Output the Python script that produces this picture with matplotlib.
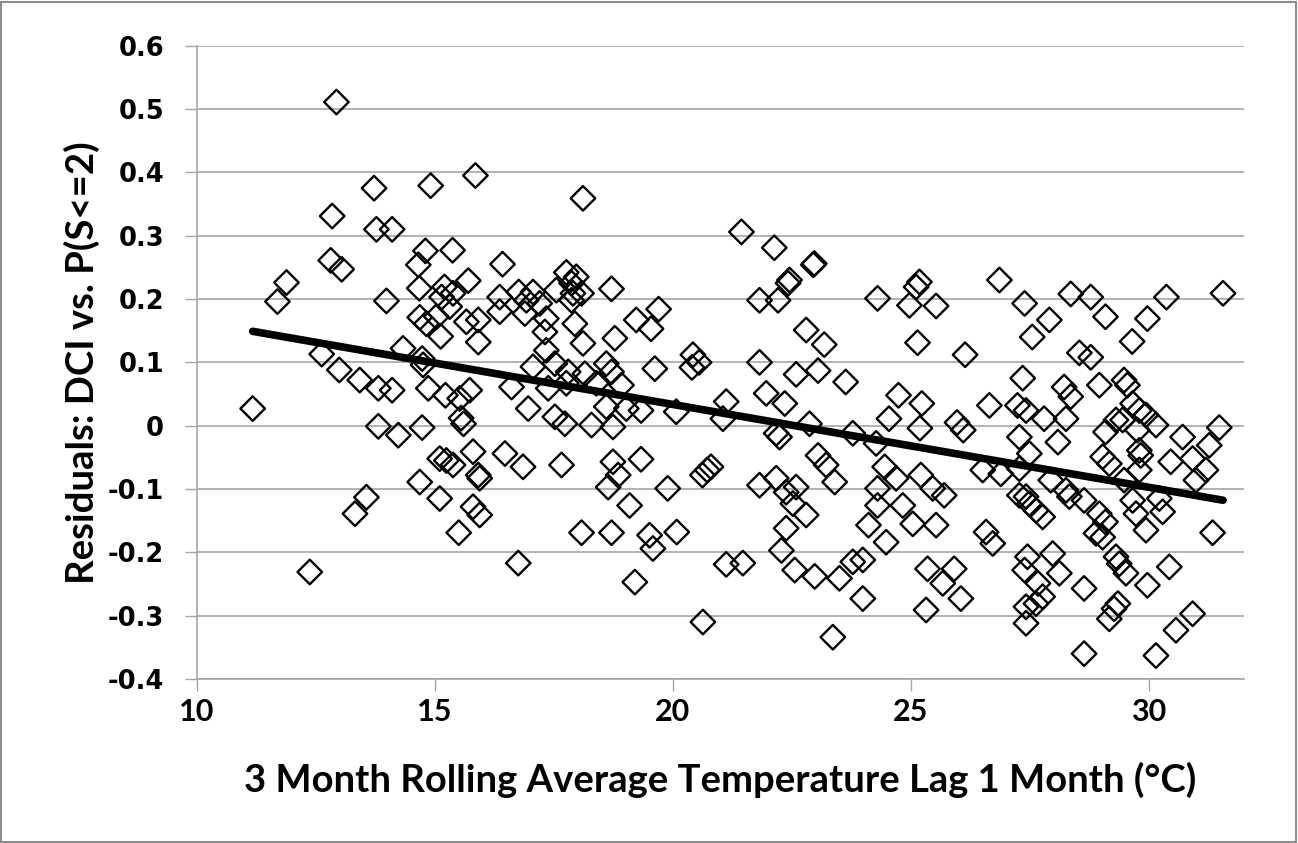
import numpy as np
import matplotlib
matplotlib.use("Agg")
from matplotlib import pyplot as plt
from matplotlib.patches import Rectangle

# temperature (x) and residual (y)
temp = [11.17, 11.69, 11.88, 12.37, 12.62, 12.81, 12.84, 12.93, 12.99, 13.04,
        13.32, 13.42, 13.56, 13.72, 13.77, 13.81, 13.81, 13.98, 14.10, 14.10,
        14.23, 14.33, 14.65, 14.67, 14.68, 14.68, 14.73, 14.73, 14.75, 14.80,
        14.82, 14.86, 14.91, 15.03, 15.10, 15.10, 15.12, 15.14, 15.20, 15.22,
        15.24, 15.31, 15.37, 15.38, 15.38, 15.50, 15.52, 15.55, 15.60, 15.66,
        15.70, 15.73, 15.80, 15.80, 15.85, 15.91, 15.91, 15.91, 15.94, 15.94,
        16.36, 16.36, 16.42, 16.47, 16.61, 16.75, 16.76, 16.85, 16.89, 16.92,
        16.96, 17.06, 17.06, 17.20, 17.31, 17.34, 17.34, 17.38, 17.52, 17.52,
        17.55, 17.66, 17.73, 17.76, 17.76, 17.80, 17.87, 17.87, 17.90, 17.94,
        17.97, 18.08, 18.08, 18.11, 18.11, 18.15, 18.29, 18.39, 18.60, 18.60,
        18.64, 18.71, 18.71, 18.71, 18.74, 18.74, 18.78, 18.85, 18.92, 19.02,
        19.09, 19.20, 19.23, 19.33, 19.33, 19.51, 19.54, 19.58, 19.62, 19.70,
        19.89, 20.07, 20.08, 20.42, 20.55, 20.40, 20.62, 20.72, 20.80, 20.63,
        21.05, 21.12, 21.12, 21.44, 21.47, 21.82, 21.82, 21.82, 21.96, 22.13,
        22.17, 22.17, 22.21, 22.24, 22.28, 22.35, 22.38, 22.38, 22.42, 22.45,
        22.52, 22.56, 22.59, 22.59, 22.80, 22.80, 22.87, 22.95, 22.97, 22.98,
        23.05, 23.05, 23.18, 23.22, 23.36, 23.40, 23.50, 23.63, 23.78, 23.78,
        23.99, 23.99, 24.11, 24.27, 24.30, 24.30, 24.30, 24.45, 24.48, 24.54,
        24.69, 24.74, 24.83, 24.97, 25.04, 25.11, 25.14, 25.18, 25.19, 25.21,
        25.23, 25.32, 25.35, 25.46, 25.53, 25.53, 25.67, 25.70, 25.91, 25.97,
        26.05, 26.10, 26.14, 26.51, 26.58, 26.65, 26.72, 26.86, 26.89, 27.24,
        27.28, 27.28, 27.28, 27.35, 27.39, 27.39, 27.42, 27.42, 27.42, 27.42,
        27.45, 27.49, 27.49, 27.55, 27.63, 27.63, 27.67, 27.77, 27.77, 27.80,
        27.91, 27.94, 27.98, 28.09, 28.12, 28.22, 28.26, 28.26, 28.33, 28.36,
        28.36, 28.54, 28.64, 28.64, 28.64, 28.78, 28.78, 28.89, 28.96, 28.96,
        29.03, 29.03, 29.09, 29.09, 29.09, 29.17, 29.17, 29.27, 29.31, 29.31,
        29.35, 29.38, 29.45, 29.48, 29.48, 29.52, 29.55, 29.65, 29.66, 29.66,
        29.73, 29.76, 29.80, 29.80, 29.83, 29.80, 29.94, 29.94, 29.97, 29.97,
        30.15, 30.15, 30.22, 30.29, 30.37, 30.43, 30.46, 30.57, 30.71, 30.92,
        30.92, 30.99, 31.20, 31.27, 31.34, 31.48, 31.56]

resid = [0.027, 0.196, 0.226, -0.231, 0.113, 0.261, 0.331, 0.511, 0.088, 0.247,
         -0.139, 0.072, -0.113, 0.375, 0.310, 0.059, -0.001, 0.197, 0.310, 0.056,
         -0.015, 0.122, 0.254, 0.217, 0.171, -0.089, 0.106, -0.003, 0.096, 0.276,
         0.161, 0.059, 0.379, 0.172, -0.052, -0.115, 0.141, 0.203, 0.219, 0.048,
         -0.055, 0.188, 0.277, 0.209, -0.062, -0.169, 0.043, 0.012, 0.003, 0.164,
         0.229, 0.056, -0.041, -0.128, 0.395, 0.167, 0.132, -0.078, -0.083, -0.141,
         0.203, 0.180, 0.255, -0.044, 0.061, -0.217, 0.211, -0.065, 0.177, 0.198,
         0.027, 0.211, 0.093, 0.193, 0.148, 0.169, 0.119, 0.059, 0.098, 0.014,
         0.214, -0.062, 0.003, 0.242, 0.067, 0.085, 0.225, 0.198, 0.209, 0.161,
         0.235, 0.209, -0.169, 0.359, 0.130, 0.082, 0.001, 0.067, 0.098, 0.030,
         -0.097, 0.216, 0.085, -0.169, -0.002, -0.057, 0.138, -0.078, 0.064, 0.027,
         -0.126, -0.247, 0.167, 0.024, -0.053, -0.173, 0.153, -0.194, 0.090, 0.184,
         -0.099, 0.022, -0.168, 0.112, 0.100, 0.092, -0.078, -0.070, -0.065, -0.310,
         0.011, 0.038, -0.219, 0.306, -0.217, 0.198, 0.100, -0.094, 0.051, 0.281,
         -0.012, -0.083, 0.198, -0.018, -0.197, 0.035, -0.105, -0.162, 0.225, 0.230,
         -0.123, -0.228, 0.081, -0.097, 0.151, -0.141, 0.003, 0.254, 0.256, -0.238,
         0.087, -0.047, 0.128, -0.062, -0.334, -0.089, -0.241, 0.069, -0.012, -0.215,
         -0.212, -0.273, -0.157, -0.028, 0.201, -0.099, -0.126, -0.065, -0.184, 0.011,
         -0.083, 0.048, -0.126, 0.190, -0.155, 0.219, 0.131, 0.227, -0.004, -0.078,
         0.035, -0.291, -0.226, -0.099, 0.189, -0.157, -0.249, -0.110, -0.226, 0.005,
         -0.273, -0.007, 0.112, -0.070, -0.168, 0.032, -0.186, 0.230, -0.076, 0.032,
         -0.018, -0.068, -0.110, 0.075, 0.193, -0.228, 0.024, -0.112, -0.286, -0.312,
         -0.207, -0.044, -0.123, 0.140, -0.134, -0.281, -0.249, -0.144, -0.270, 0.011,
         0.167, -0.086, -0.202, -0.026, -0.233, 0.061, 0.011, -0.102, -0.112, 0.208,
         0.046, 0.115, -0.118, -0.257, -0.360, 0.203, 0.108, -0.170, 0.064, -0.139,
         -0.049, -0.176, 0.172, -0.010, -0.152, -0.060, -0.305, -0.289, 0.009, -0.207,
         -0.281, -0.218, 0.009, 0.072, -0.086, -0.233, 0.064, 0.133, 0.035, -0.118,
         -0.139, -0.007, 0.024, -0.039, -0.047, -0.070, 0.017, -0.165, 0.169, -0.252,
         0.001, -0.363, -0.115, -0.136, 0.203, -0.223, -0.057, -0.323, -0.018, -0.052,
         -0.297, -0.086, -0.070, -0.031, -0.169, -0.003, 0.209]

x_ticks = [10, 15, 20, 25, 30]
y_ticks = [-0.4, -0.3, -0.2, -0.1, 0, 0.1, 0.2, 0.3, 0.4, 0.5, 0.6]
y_ticklabels = ["-0.4", "-0.3", "-0.2", "-0.1", "0", "0.1", "0.2", "0.3", "0.4", "0.5", "0.6"]

temp = np.array(temp)
resid = np.array(resid)

grid_col = "#a6a6a6"

fig = plt.figure(figsize=(12.98, 8.43), dpi=100)
ax = fig.add_axes([197 / 1298, 1 - 679 / 843, (1244 - 197) / 1298, (679 - 45.7) / 843])

ax.scatter(temp, resid, marker="D", s=12.5 ** 2, facecolors="none",
           edgecolors="black", linewidths=1.7, zorder=3)

# linear trend line (like excel), from min to max x
k, b = np.polyfit(temp, resid, 1)
xl = np.array([temp.min(), temp.max()])
ax.plot(xl, k * xl + b, color="black", lw=5.5, solid_capstyle="round", zorder=4)

ax.set_xlim(10, 32)
ax.set_ylim(-0.4, 0.6)
ax.set_xticks(x_ticks)
ax.set_yticks(y_ticks)
ax.set_yticklabels(y_ticklabels)
ax.grid(axis="y", color=grid_col, lw=1.2)
ax.set_axisbelow(True)

for s in ["top", "right"]:
    ax.spines[s].set_visible(False)
for s in ["left", "bottom"]:
    ax.spines[s].set_color(grid_col)
    ax.spines[s].set_linewidth(1.2)

ax.tick_params(axis="both", direction="out", length=8.6, width=1.0, color=grid_col)
ax.tick_params(axis="y", pad=15)
ax.tick_params(axis="x", pad=5)

for t in ax.get_yticklabels():
    t.set_fontfamily("DejaVu Sans")
    t.set_fontweight("bold")
    t.set_fontsize(18.5)
for t in ax.get_xticklabels():
    t.set_fontfamily("Lato")
    t.set_fontweight("bold")
    t.set_fontsize(22)

ax.set_xlabel("3 Month Rolling Average Temperature Lag 1 Month (°C)",
              fontfamily="Lato", fontweight="bold", fontsize=27.5)
ax.xaxis.set_label_coords(0.5, -(780 - 679) / 633.3)
ax.xaxis.label.set_va("center")

ax.set_ylabel("Residuals: DCI vs. P(S<=2)", fontfamily="Lato", fontweight="bold", fontsize=27.5)
ax.yaxis.set_label_coords((82 - 197) / 1047, 0.5)
ax.yaxis.label.set_va("center")

# chart area border
fig.patches.append(Rectangle((1 / 1298, 1 / 843), 1 - 3 / 1298, 1 - 3 / 843,
                             transform=fig.transFigure, fill=False,
                             edgecolor="#8c8c8c", lw=1.5))

fig.savefig("out.png", dpi=100)
